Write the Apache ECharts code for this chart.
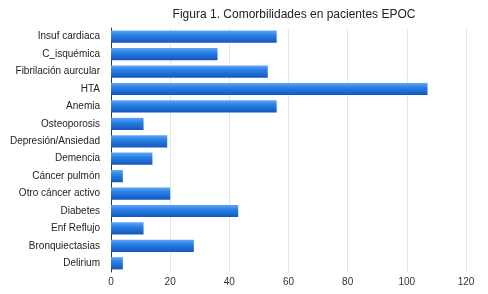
<!DOCTYPE html>
<html>
<head>
<meta charset="utf-8">
<script src="https://cdn.jsdelivr.net/npm/echarts@6/dist/echarts.min.js"></script>
<style>
  html, body { margin: 0; padding: 0; background: #fff; }
  #chart { width: 488px; height: 294px; }
</style>
</head>
<body>
<div id="chart"></div>
<script>
// categorías de arriba a abajo
const categories = [
  'Insuf cardiaca', 'C_isquémica', 'Fibrilación aurcular', 'HTA', 'Anemia',
  'Osteoporosis', 'Depresión/Ansiedad', 'Demencia', 'Cáncer pulmón',
  'Otro cáncer activo', 'Diabetes', 'Enf Reflujo', 'Bronquiectasias', 'Delirium'
]
const values = [56, 36, 53, 107, 56, 11, 19, 14, 4, 20, 43, 11, 28, 4]
const xTicks = [0, 20, 40, 60, 80, 100, 120]

const barColor = new echarts.graphic.LinearGradient(0, 0, 0, 1, [
  { offset: 0, color: '#62a6f2' },
  { offset: 0.35, color: '#2a82e8' },
  { offset: 1, color: '#1456bd' }
])

const option = {
  textStyle: { fontFamily: 'Liberation Sans, Arial, sans-serif' },
  title: {
    text: 'Figura 1. Comorbilidades en pacientes EPOC',
    left: 289,
    textAlign: 'center',
    top: 4,
    textStyle: { fontSize: 12, fontWeight: 'normal', color: '#222' }
  },
  grid: {
    top: 28,
    bottom: 22,
    left: 111,
    right: 22
  },
  xAxis: {
    type: 'value',
    min: xTicks[0],
    max: xTicks[xTicks.length - 1],
    interval: 20,
    axisLine: { show: false },
    axisTick: { show: false },
    axisLabel: { color: '#333', fontSize: 10, margin: 5 },
    splitLine: { show: true, lineStyle: { color: '#e6e6e6', width: 1 } }
  },
  yAxis: {
    type: 'category',
    inverse: true,
    data: categories,
    axisLine: { show: true, lineStyle: { color: '#333', width: 1 } },
    axisTick: { show: false },
    axisLabel: { color: '#222', fontSize: 10, margin: 11 }
  },
  series: [{
    type: 'bar',
    data: values,
    barCategoryGap: '30%',
    itemStyle: { color: barColor },
    animation: false
  }]
}

const myChart = echarts.init(document.getElementById('chart'))
myChart.setOption(option)
</script>
</body>
</html>
